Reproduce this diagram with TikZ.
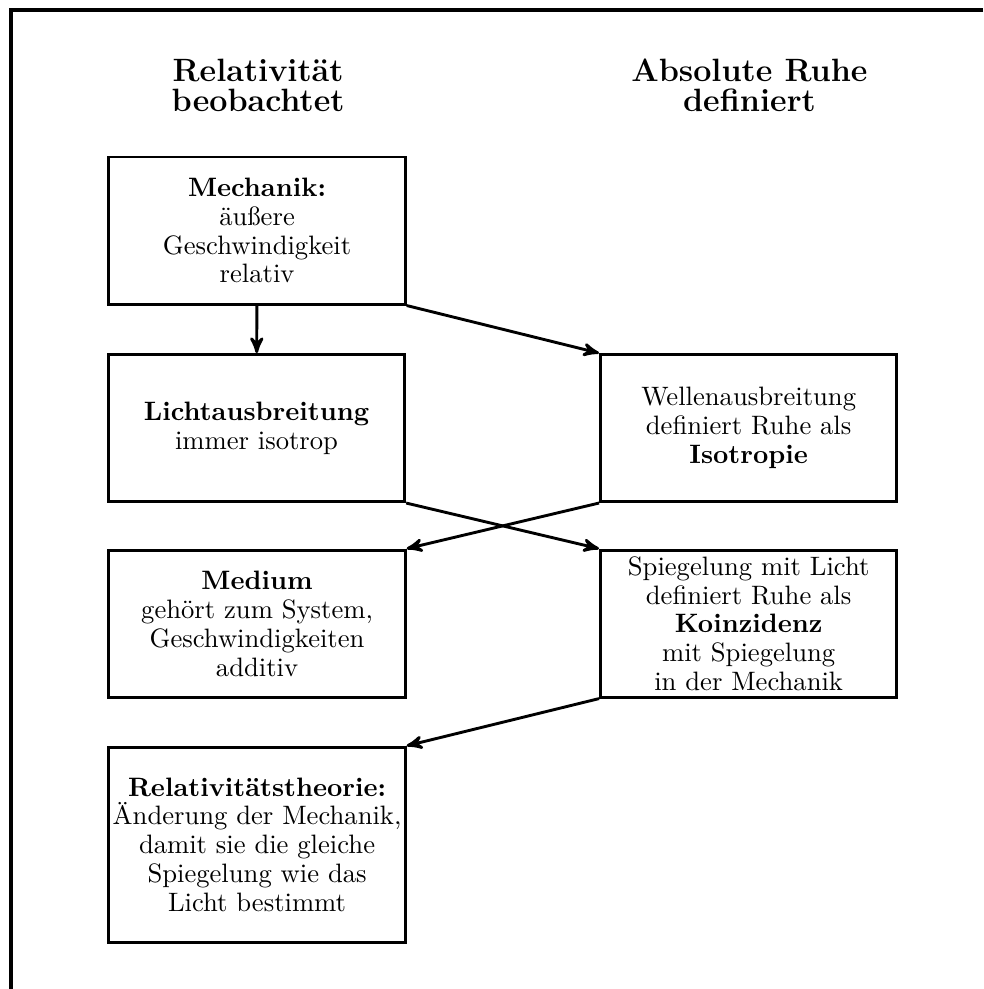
\documentclass[tikz,border=0pt]{standalone}
\usepackage{tikz}
\usetikzlibrary{arrows}

\begin{document}
\begin{tikzpicture}[->,line width=1.1pt,>=stealth']
    \tikzstyle{box}=[draw=black, rectangle, align=center, minimum width=3.97cm, minimum height=1.97cm, inner xsep=1pt, inner ysep=2pt, font=\fontsize{10.15}{11}\selectfont]
    \tikzstyle{head}=[align=center, font=\fontsize{12.3}{11.5}\selectfont\bfseries]

    \useasboundingbox (0,0) rectangle (13.17,-13.25);
    \draw[-, line width=1.3pt] (13.17,-0.134) -- (0.147,-0.134) -- (0.147,-13.25);

    \node[head] (hrel) at (3.457,-1.14)  {Relativität\\beobachtet};
    \node[head] (habs) at (10.04,-1.14)  {Absolute Ruhe\\definiert};

    \node[box] (mech)    at (3.444,-3.089) {\textbf{Mechanik:}\\äußere\\Geschwindigkeit\\relativ};
    \node[box] (licht)   at (3.437,-5.735) {\textbf{Lichtausbreitung}\\immer isotrop};
    \node[box] (welle)   at (10.03,-5.735) {Wellenausbreitung\\definiert Ruhe als\\\textbf{Isotropie}};
    \node[box] (medium)  at (3.444,-8.355) {\textbf{Medium}\\gehört zum System,\\Geschwindigkeiten\\additiv};
    \node[box] (spiegel) at (10.03,-8.355) {Spiegelung mit Licht\\definiert Ruhe als\\\textbf{Koinzidenz}\\mit Spiegelung\\in der Mechanik};
    \node[box, minimum height=2.61cm] (relth) at (3.444,-11.316) {\textbf{Relativitätstheorie:}\\Änderung der Mechanik,\\damit sie die gleiche\\Spiegelung wie das\\Licht bestimmt};

    \path
     (mech) edge (licht)
     (mech.south east) edge (welle.north west)
     (licht.south east) edge (spiegel.north west)
     (welle.south west) edge (medium.north east)
     (spiegel.south west) edge (relth.north east)
     ;
\end{tikzpicture}
\end{document}
